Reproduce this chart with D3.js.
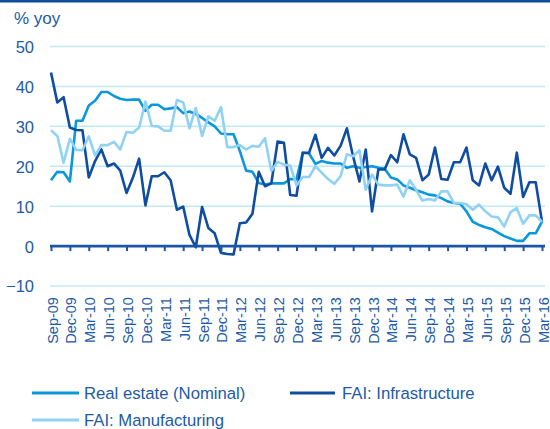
<!DOCTYPE html>
<html>
<head>
<meta charset="utf-8">
<script src="https://cdn.jsdelivr.net/npm/d3@7"></script>
<style>
  body { margin: 0; background: #fff; }
  svg { display: block; font-family: Arial, "Liberation Sans", sans-serif; }
</style>
</head>
<body>
<div id="chart"></div>
<script>
// Etiquetas del eje X (trimestrales)
var etiquetas = ["Sep-09", "Dec-09", "Mar-10", "Jun-10", "Sep-10", "Dec-10", "Mar-11", "Jun-11", "Sep-11",
  "Dec-11", "Mar-12", "Jun-12", "Sep-12", "Dec-12", "Mar-13", "Jun-13", "Sep-13", "Dec-13",
  "Mar-14", "Jun-14", "Sep-14", "Dec-14", "Mar-15", "Jun-15", "Sep-15", "Dec-15", "Mar-16"];

// Series mensuales, Sep-09 .. Mar-16 (% yoy)
var realEstate = [16.5, 18.6, 18.5, 16.2, 31.4, 31.4, 35.2, 36.4, 38.6, 38.6,
  37.6, 36.9, 36.6, 36.7, 36.7, 33.9, 35.4, 35.4, 34.3, 34.5,
  34.8, 33.3, 33.7, 33.1, 32.1, 31.0, 30.0, 28.2, 28.0, 28.0,
  23.8, 18.9, 18.6, 15.8, 15.4, 15.7, 15.7, 15.7, 16.8, 16.7,
  23.4, 23.2, 20.6, 21.3, 20.9, 20.7, 20.7, 19.6, 20.0, 19.6,
  19.8, 20.0, 19.6, 19.4, 17.2, 16.7, 15.2, 14.6, 14.0, 13.5,
  12.9, 12.7, 12.0, 11.2, 10.8, 10.6, 8.7, 6.1, 5.3, 4.7,
  4.3, 3.4, 2.5, 1.9, 1.3, 1.3, 3.2, 3.2, 6.1];

var infraestructura = [43.5, 36.0, 37.3, 29.7, 29.1, 29.0, 17.2, 21.3, 24.2, 20.0,
  20.7, 18.9, 13.3, 17.1, 21.9, 10.2, 17.5, 17.5, 18.5, 16.5,
  9.1, 9.9, 2.8, -0.3, 9.8, 4.5, 3.2, -1.7, -2.0, -2.1,
  5.7, 5.9, 8.1, 18.6, 15.0, 15.7, 26.2, 25.9, 12.8, 12.6,
  23.4, 23.4, 27.9, 22.1, 24.6, 22.7, 25.1, 29.5, 22.4, 16.2,
  24.2, 8.7, 19.2, 19.2, 22.8, 21.0, 28.0, 23.0, 22.1, 16.5,
  17.9, 24.7, 16.8, 16.6, 21.0, 21.0, 24.7, 16.5, 15.2, 20.7,
  16.5, 19.9, 14.6, 13.1, 23.4, 12.3, 16.0, 16.0, 6.1];

var manufactura = [29.0, 27.6, 20.9, 26.9, 24.1, 24.0, 27.5, 22.7, 25.3, 25.3,
  26.1, 24.2, 28.6, 28.4, 29.7, 36.2, 30.1, 30.0, 28.9, 28.9,
  36.6, 36.0, 29.5, 34.6, 27.6, 32.5, 31.4, 34.8, 24.8, 24.8,
  25.3, 24.2, 25.1, 24.9, 27.0, 18.8, 21.1, 20.4, 20.2, 15.2,
  17.3, 17.3, 20.0, 18.4, 16.8, 15.6, 17.5, 23.0, 22.5, 24.0,
  14.1, 17.9, 15.4, 15.2, 15.2, 15.4, 12.4, 16.5, 14.1, 11.4,
  11.8, 11.4, 13.7, 13.7, 10.8, 10.8, 10.5, 9.1, 10.4, 8.7,
  7.4, 7.2, 4.9, 8.5, 9.5, 5.6, 7.7, 7.7, 6.1];

var yTicks = [-10, 0, 10, 20, 30, 40, 50];

var nombres = ["Real estate (Nominal)", "FAI: Infrastructure", "FAI: Manufacturing"];

var azulTexto = "#1d5aa8";
var colores = ["#0a97dc", "#0f4da0", "#8fd2f3"];

var svg = d3.select("#chart").append("svg")
  .attr("width", 550).attr("height", 429);

// Barra superior
svg.append("rect").attr("x", 0).attr("y", 0).attr("width", 550).attr("height", 2.5)
  .attr("fill", "#0f4c9c");

var x = d3.scaleLinear().domain([0, realEstate.length - 1]).range([51, 542]);
var y = d3.scaleLinear().domain([-10, 50]).range([286, 46.5]);

/**
 * Lineas de la rejilla horizontal
 */
svg.append("g").selectAll("line")
  .data(yTicks.filter(function(d) { return d != 0; }))
  .enter().append("line")
  .attr("x1", 50).attr("x2", 545)
  .attr("y1", function(d) { return y(d); })
  .attr("y2", function(d) { return y(d); })
  .attr("stroke", "#c4e8f8").attr("stroke-width", 1.5);

// Etiquetas del eje Y
var ejeY = svg.append("g").attr("transform", "translate(34,0)")
  .call(d3.axisLeft(y).tickValues(yTicks).tickSize(0).tickPadding(0));
ejeY.select(".domain").remove();
ejeY.selectAll("text").attr("fill", azulTexto).style("font-size", "16.5px")
  .attr("dy", "0.36em");

svg.append("text").attr("x", 14).attr("y", 23.5).text("% yoy")
  .attr("fill", azulTexto).style("font-size", "17px");

/**
 * Series
 */
var linea = d3.line()
  .x(function(d, i) { return x(i); })
  .y(function(d) { return y(d); });

[realEstate, infraestructura, manufactura].forEach(function(serie, k) {
  svg.append("path").datum(serie)
    .attr("d", linea)
    .attr("fill", "none")
    .attr("stroke", colores[k])
    .attr("stroke-width", 2.6)
    .attr("stroke-linejoin", "round");
});

/**
 * Eje X en el cero
 */
var ejeX = svg.append("g").attr("transform", "translate(0," + y(0) + ")")
  .call(d3.axisBottom(x)
    .tickValues(d3.range(0, realEstate.length, 3))
    .tickFormat(function(d) { return etiquetas[d / 3]; })
    .tickSize(5));
ejeX.select(".domain").remove();
ejeX.selectAll(".tick line").attr("stroke", "#1a55a6").attr("stroke-width", 2);
ejeX.selectAll(".tick text")
  .attr("y", 0).attr("dy", 0)
  .attr("transform", "translate(6,51) rotate(-90)")
  .attr("text-anchor", "end")
  .attr("fill", azulTexto)
  .style("font-size", "14.5px");
ejeX.append("line").attr("x1", 50).attr("x2", 545).attr("y1", 0).attr("y2", 0)
  .attr("stroke", "#1a55a6").attr("stroke-width", 2.6);

/**
 * Leyenda
 */
var posLeyenda = [[32, 393], [290, 393], [32, 420]];
var leyenda = svg.append("g").selectAll("g").data(nombres).enter().append("g")
  .attr("transform", function(d, i) { return "translate(" + posLeyenda[i][0] + "," + posLeyenda[i][1] + ")"; });
leyenda.append("line").attr("x1", 0).attr("x2", function(d, i) { return i == 1 ? 45 : 47; })
  .attr("stroke", function(d, i) { return colores[i]; }).attr("stroke-width", 3);
leyenda.append("text").attr("x", 52).attr("dy", "0.36em")
  .text(function(d) { return d; })
  .attr("fill", azulTexto).style("font-size", "16.7px");
</script>
</body>
</html>
